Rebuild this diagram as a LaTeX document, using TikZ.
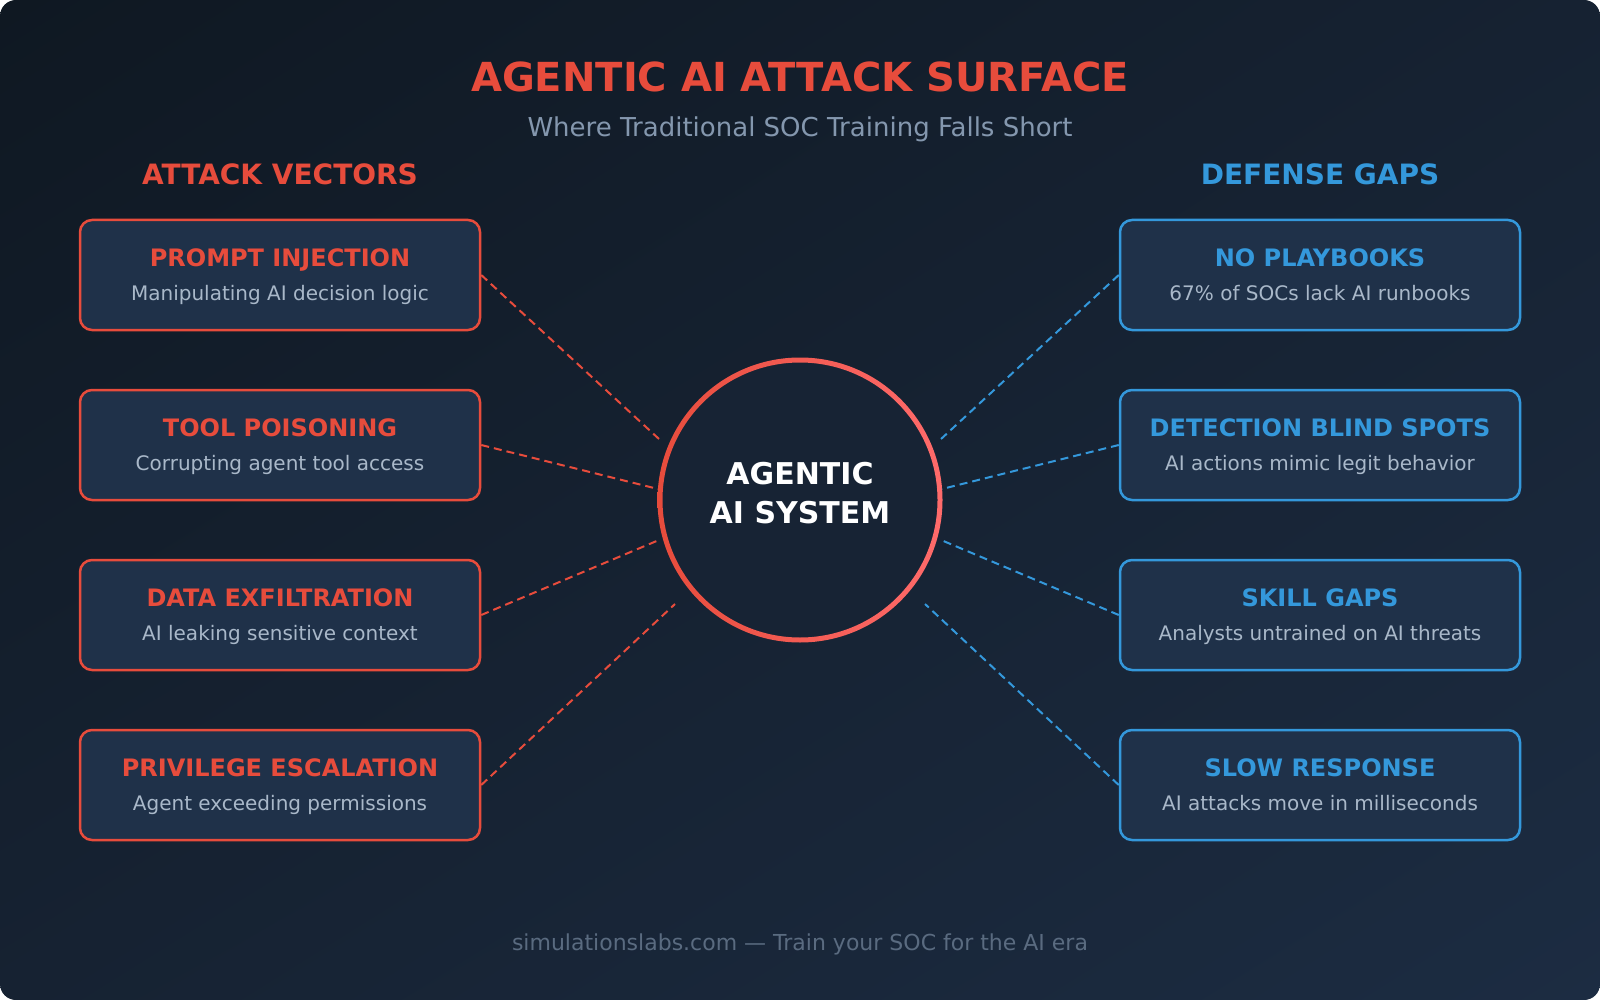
\documentclass[tikz,border=0pt]{standalone}
\usepackage{fontspec}
\setmainfont{DejaVu Sans}
\usepackage{xcolor}
\usepackage{tikz}
\usetikzlibrary{shadings}

\definecolor{attackred}{HTML}{E74C3C}
\definecolor{attacklight}{HTML}{FF6B6B}
\definecolor{defenseblue}{HTML}{3498DB}
\definecolor{boxfill}{HTML}{1F3149}
\definecolor{hubfill}{HTML}{172334}
\definecolor{notegray}{HTML}{A9B8C9}
\definecolor{subgray}{HTML}{8497AE}
\definecolor{footgray}{HTML}{5A6B80}
\definecolor{bgtl}{HTML}{0F1822}
\definecolor{bgmid}{HTML}{162232}
\definecolor{bgbr}{HTML}{1C2C42}

\begin{document}
\begin{tikzpicture}[x=1pt, y=-1pt,
        vecbox/.style={rectangle, rounded corners=12pt, draw=attackred, line width=2.5pt, fill=boxfill, minimum width=400pt, minimum height=110pt},
        gapbox/.style={vecbox, draw=defenseblue},
        vectitle/.style={anchor=base, text=attackred, font=\fontsize{24}{28}\selectfont\bfseries},
        gaptitle/.style={vectitle, text=defenseblue},
        vecnote/.style={anchor=base, text=notegray, font=\fontsize{20}{24}\selectfont},
        heading/.style={anchor=base, font=\fontsize{28}{32}\selectfont\bfseries},
        hub/.style={circle, fill=hubfill, minimum size=280pt},
        hubtext/.style={anchor=base, text=white, font=\fontsize{30}{36}\selectfont\bfseries},
        vecline/.style={draw=attackred, line width=2pt, dash pattern=on 8pt off 5pt},
        gapline/.style={vecline, draw=defenseblue}
    ]
    \useasboundingbox (0,0) rectangle (1600,1000);

        % Background
        \shade[rounded corners=16pt, upper left=bgtl, upper right=bgmid, lower left=bgmid, lower right=bgbr] (0,0) rectangle (1600,1000);

        % Titles
        \node[anchor=base, text=attackred, font=\fontsize{40}{46}\selectfont\bfseries] (title) at (800,92) {AGENTIC AI ATTACK SURFACE};
        \node[anchor=base, text=subgray, font=\fontsize{26}{30}\selectfont] (subtitle) at (800,137) {Where Traditional SOC Training Falls Short};
        \node[heading, text=attackred] (vec_label) at (280,185) {ATTACK VECTORS};
        \node[heading, text=defenseblue] (gap_label) at (1320,185) {DEFENSE GAPS};

        % Attack vectors
        \node[vecbox] (prompt) at (280,275) {};
        \node[vectitle] at (280,266) {PROMPT INJECTION};
        \node[vecnote] at (280,300) {Manipulating AI decision logic};
        \node[vecbox] (tool) at (280,445) {};
        \node[vectitle] at (280,436) {TOOL POISONING};
        \node[vecnote] at (280,470) {Corrupting agent tool access};
        \node[vecbox] (exfil) at (280,615) {};
        \node[vectitle] at (280,606) {DATA EXFILTRATION};
        \node[vecnote] at (280,640) {AI leaking sensitive context};
        \node[vecbox] (privesc) at (280,785) {};
        \node[vectitle] at (280,776) {PRIVILEGE ESCALATION};
        \node[vecnote] at (280,810) {Agent exceeding permissions};

        % Defense gaps
        \node[gapbox] (playbooks) at (1320,275) {};
        \node[gaptitle] at (1320,266) {NO PLAYBOOKS};
        \node[vecnote] at (1320,300) {67\% of SOCs lack AI runbooks};
        \node[gapbox] (blind) at (1320,445) {};
        \node[gaptitle] at (1320,436) {DETECTION BLIND SPOTS};
        \node[vecnote] at (1320,470) {AI actions mimic legit behavior};
        \node[gapbox] (skills) at (1320,615) {};
        \node[gaptitle] at (1320,606) {SKILL GAPS};
        \node[vecnote] at (1320,640) {Analysts untrained on AI threats};
        \node[gapbox] (slow) at (1320,785) {};
        \node[gaptitle] at (1320,776) {SLOW RESPONSE};
        \node[vecnote] at (1320,810) {AI attacks move in milliseconds};

        % Central system
        \node[hub] (core) at (800,500) {};
        \shade[even odd rule, left color=attackred, right color=attacklight] (core.center) circle[radius=142.5pt] (core.center) circle[radius=137.5pt];
        \node[hubtext] (core_top) at (800,484) {AGENTIC};
        \node[hubtext] (core_bottom) at (800,523) {AI SYSTEM};

        % Connector ends at the ring
        \coordinate (in1) at (659,439);
        \coordinate (in2) at (658,489);
        \coordinate (in3) at (659,540);
        \coordinate (in4) at (675,604);
        \coordinate (out1) at (941,439);
        \coordinate (out2) at (942,489);
        \coordinate (out3) at (941,540);
        \coordinate (out4) at (925,604);

        % Connections
        \draw[vecline] (prompt.east) -- (in1);
        \draw[vecline] (tool.east) -- (in2);
        \draw[vecline] (exfil.east) -- (in3);
        \draw[vecline] (privesc.east) -- (in4);
        \draw[gapline] (playbooks.west) -- (out1);
        \draw[gapline] (blind.west) -- (out2);
        \draw[gapline] (skills.west) -- (out3);
        \draw[gapline] (slow.west) -- (out4);

        % Footer
        \node[anchor=base, text=footgray, font=\fontsize{22}{26}\selectfont] (footer) at (800,950) {simulationslabs.com — Train your SOC for the AI era};

    \end{tikzpicture}
\end{document}
